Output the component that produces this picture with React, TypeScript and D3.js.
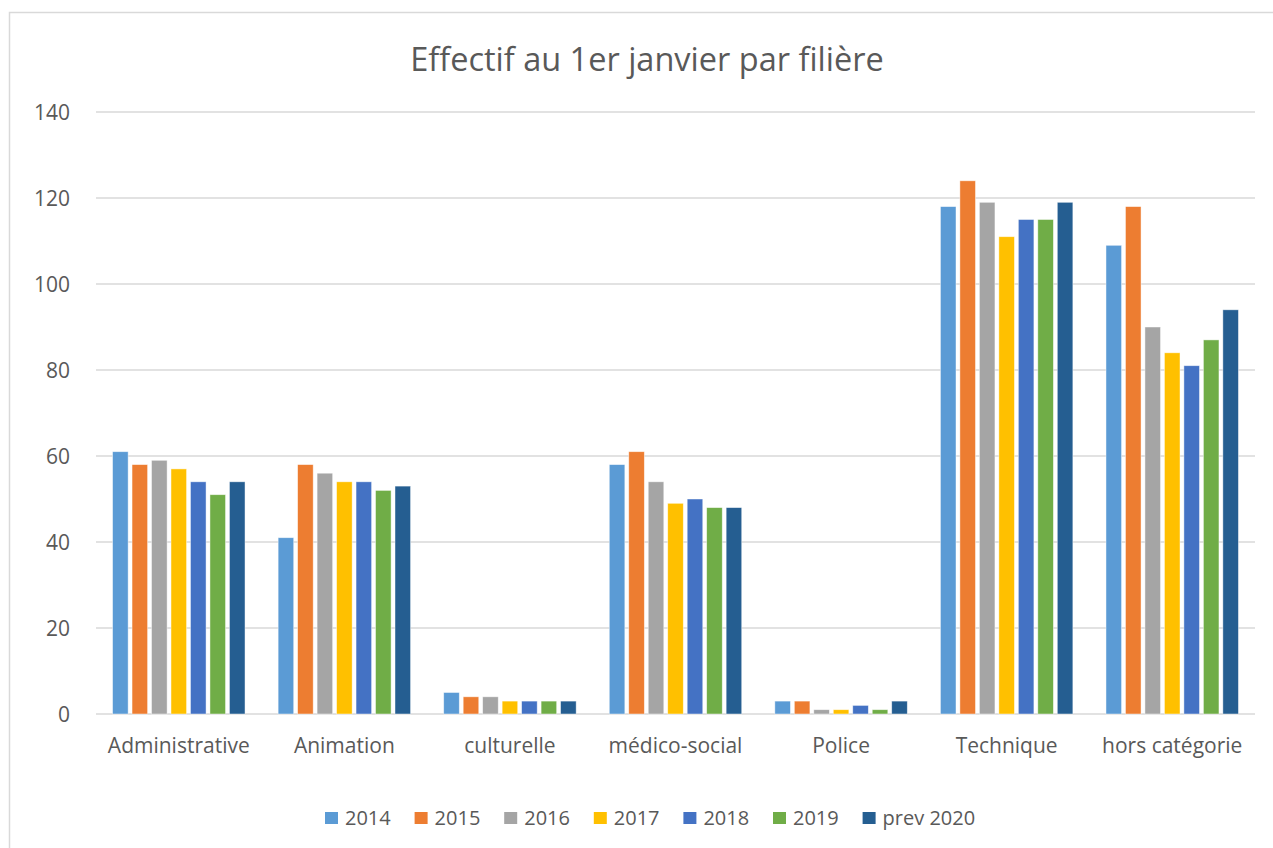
import React from "react";
import * as d3 from "d3";

const categories = ["Administrative", "Animation", "culturelle", "médico-social", "Police", "Technique", "hors catégorie"];
const seriesNames = ["2014", "2015", "2016", "2017", "2018", "2019", "prev 2020"];
const v2014 = [61, 41, 5, 58, 3, 118, 109];
const v2015 = [58, 58, 4, 61, 3, 124, 118];
const v2016 = [59, 56, 4, 54, 1, 119, 90];
const v2017 = [57, 54, 3, 49, 1, 111, 84];
const v2018 = [54, 54, 3, 50, 2, 115, 81];
const v2019 = [51, 52, 3, 48, 1, 115, 87];
const v2020 = [54, 53, 3, 48, 3, 119, 94];
const seriesValues = [v2014, v2015, v2016, v2017, v2018, v2019, v2020];
const colors = ["#5B9BD5", "#ED7D31", "#A5A5A5", "#FFC000", "#4472C4", "#70AD47", "#255E91"];
const yTicks = [0, 20, 40, 60, 80, 100, 120, 140];
const title = "Effectif au 1er janvier par filière";

const W = 1273;
const H = 848;
const FONT = "'Open Sans', sans-serif";
const TXT = "#595959";

export default function App() {
  const left = 96, right = 1255, top = 112, bottom = 714;
  const x = d3.scaleBand<string>().domain(categories).range([left, right]).paddingInner(0.2).paddingOuter(0.1);
  const xi = d3.scaleBand<string>().domain(seriesNames).range([0, x.bandwidth()]).paddingInner(0.2).paddingOuter(0);
  const y = d3.scaleLinear().domain([0, 140]).range([bottom, top]);

  const legendStart = 325;
  const legendStep = 89.6;

  return (
    <svg width={W} height={H} style={{ position: "absolute", left: 0, top: 0, background: "#fff" }}>
      <rect x={9.5} y={12.5} width={1300} height={900} fill="#fff" stroke="#D9D9D9" strokeWidth={1.5} />
      <text x={647} y={58} textAnchor="middle" dominantBaseline="central" fontFamily={FONT} fontSize={32.5} fill={TXT}>
        {title}
      </text>
      {yTicks.map((t) => (
        <g key={t}>
          <line x1={left} x2={right} y1={y(t)} y2={y(t)} stroke="#D9D9D9" strokeWidth={t === 0 ? 1.5 : 1.3} />
          <text x={70} y={y(t)} textAnchor="end" dominantBaseline="central" fontFamily={FONT} fontSize={21} fill={TXT}>
            {t}
          </text>
        </g>
      ))}
      {categories.map((c, ci) => (
        <g key={c} transform={`translate(${x(c)},0)`}>
          {seriesNames.map((s, si) => {
            const v = seriesValues[si][ci];
            return (
              <rect
                key={s}
                x={xi(s)}
                y={y(v)}
                width={xi.bandwidth()}
                height={bottom - y(v)}
                fill={colors[si]}
                stroke="#fff"
                strokeOpacity={0.6}
                strokeWidth={0.75}
              />
            );
          })}
          <text x={x.bandwidth() / 2} y={745} textAnchor="middle" dominantBaseline="central" fontFamily={FONT} fontSize={21} fill={TXT}>
            {c}
          </text>
        </g>
      ))}
      {seriesNames.map((s, si) => (
        <g key={s} transform={`translate(${legendStart + si * legendStep},0)`}>
          <rect x={0} y={812} width={13} height={12} fill={colors[si]} />
          <text x={20} y={817} dominantBaseline="central" fontFamily={FONT} fontSize={20} fill={TXT}>
            {s}
          </text>
        </g>
      ))}
    </svg>
  );
}
